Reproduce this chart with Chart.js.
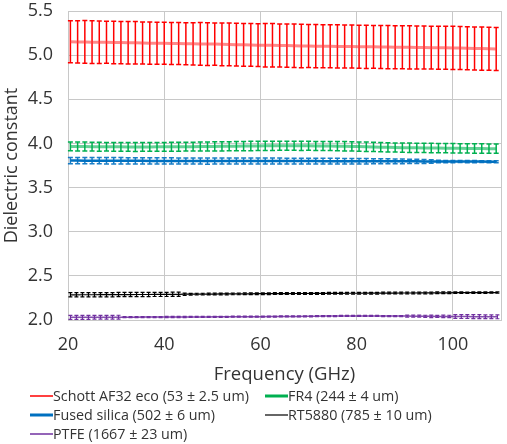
<!DOCTYPE html>
<html>
<head>
<meta charset="utf-8">
<script src="https://cdn.jsdelivr.net/npm/chart.js@4.4.0/dist/chart.umd.min.js"></script>
<style>
html,body{margin:0;padding:0;background:#fff;}
#wrap{width:507px;height:444px;position:relative;}
</style>
</head>
<body>
<div id="wrap"><canvas id="chart" width="507" height="444"></canvas></div>
<script>
// Frequencies (GHz): red / green / blue sweep
const freqA = [20.5,22,23.5,25,26.5,28,29.5,31,32.5,34,
  35.5,37,38.5,40,41.5,43,44.5,46,47.5,49,
  50.5,52,53.5,55,56.5,58,59.5,61,62.5,64,
  65.5,67,68.5,70,71.5,73,74.5,76,77.5,79,
  80.5,82,83.5,85,86.5,88,89.5,91,92.5,94,
  95.5,97,98.5,100,101.5,103,104.5,106,107.5,109];

// Frequencies (GHz): RT5880 / PTFE sweep
const freqB = [20.5,21.75,23,24.25,25.5,26.75,28,29.25,30.5,31.75,
  33,34.25,35.5,36.75,38,39.25,40.5,41.75,43,44.25,
  45.5,46.75,48,49.25,50.5,51.75,53,54.25,55.5,56.75,
  58,59.25,60.5,61.75,63,64.25,65.5,66.75,68,69.25,
  70.5,71.75,73,74.25,75.5,76.75,78,79.25,80.5,81.75,
  83,84.25,85.5,86.75,88,89.25,90.5,91.75,93,94.25,
  95.5,96.75,98,99.25,100.5,101.75,103,104.25,105.5,106.75,
  108,109.25];

const labels = [
  'Schott AF32 eco (53 \u00b1 2.5 um)',
  'FR4 (244 \u00b1 4 um)',
  'Fused silica (502 \u00b1 6 um)',
  'RT5880 (785 \u00b1 10 um)',
  'PTFE (1667 \u00b1 23 um)'
];

const schott = [5.152,5.150,5.149,5.147,5.146,5.145,5.143,5.142,5.141,5.140,
  5.138,5.136,5.135,5.134,5.133,5.131,5.130,5.128,5.127,5.126,
  5.125,5.123,5.121,5.119,5.117,5.115,5.113,5.112,5.111,5.110,
  5.108,5.106,5.104,5.103,5.102,5.101,5.100,5.099,5.098,5.097,
  5.096,5.095,5.094,5.093,5.092,5.090,5.089,5.088,5.087,5.086,
  5.085,5.084,5.083,5.082,5.080,5.078,5.076,5.074,5.072,5.070];
const schottErr = [0.238,0.240,0.242,0.242,0.240,0.238,0.240,0.240,0.240,0.240,
  0.238,0.238,0.238,0.238,0.238,0.238,0.238,0.240,0.242,0.242,
  0.240,0.242,0.242,0.243,0.242,0.242,0.243,0.245,0.246,0.244,
  0.244,0.246,0.246,0.244,0.245,0.244,0.243,0.245,0.243,0.244,
  0.244,0.245,0.243,0.244,0.245,0.244,0.244,0.244,0.244,0.244,
  0.243,0.244,0.244,0.244,0.244,0.243,0.243,0.244,0.243,0.243];

const fr4 = [3.966,3.965,3.964,3.963,3.962,3.962,3.961,3.961,3.960,3.960,
  3.960,3.960,3.961,3.961,3.962,3.962,3.963,3.963,3.964,3.965,
  3.966,3.967,3.968,3.969,3.970,3.971,3.972,3.973,3.973,3.974,
  3.974,3.974,3.973,3.973,3.972,3.971,3.970,3.969,3.968,3.966,
  3.964,3.962,3.960,3.958,3.956,3.954,3.952,3.951,3.950,3.949,
  3.948,3.947,3.946,3.945,3.944,3.943,3.942,3.942,3.941,3.941];
const fr4Err = [0.050,0.050,0.051,0.050,0.050,0.049,0.050,0.050,0.050,0.051,
  0.050,0.050,0.050,0.049,0.050,0.050,0.050,0.050,0.051,0.050,
  0.052,0.052,0.051,0.052,0.052,0.053,0.052,0.052,0.052,0.051,
  0.051,0.052,0.052,0.051,0.051,0.052,0.051,0.052,0.053,0.052,
  0.052,0.053,0.052,0.053,0.053,0.052,0.053,0.053,0.052,0.053,
  0.053,0.053,0.052,0.053,0.053,0.052,0.053,0.053,0.053,0.053];

const silica = [3.806,3.806,3.805,3.805,3.805,3.804,3.804,3.804,3.803,3.803,
  3.803,3.802,3.802,3.802,3.802,3.801,3.801,3.801,3.801,3.800,
  3.800,3.800,3.800,3.800,3.800,3.800,3.800,3.800,3.800,3.800,
  3.800,3.800,3.800,3.800,3.800,3.799,3.799,3.799,3.799,3.799,
  3.798,3.798,3.798,3.798,3.798,3.797,3.797,3.797,3.797,3.796,
  3.796,3.796,3.795,3.795,3.795,3.794,3.794,3.794,3.793,3.793];
const silicaErr = [0.036,0.036,0.036,0.036,0.036,0.036,0.036,0.036,0.036,0.036,
  0.035,0.035,0.035,0.035,0.035,0.035,0.035,0.035,0.035,0.035,
  0.034,0.034,0.034,0.034,0.034,0.034,0.034,0.034,0.034,0.034,
  0.033,0.033,0.033,0.033,0.033,0.032,0.032,0.032,0.031,0.031,
  0.030,0.030,0.029,0.028,0.028,0.027,0.026,0.025,0.024,0.022,
  0.020,0.014,0.013,0.013,0.012,0.012,0.012,0.011,0.011,0.011];

const rt5880 = [2.285,2.285,2.286,2.286,2.286,2.287,2.287,2.287,2.288,2.288,
  2.288,2.289,2.289,2.289,2.290,2.290,2.290,2.291,2.291,2.292,
  2.292,2.293,2.293,2.294,2.294,2.295,2.295,2.296,2.296,2.297,
  2.297,2.298,2.298,2.298,2.299,2.299,2.299,2.300,2.300,2.300,
  2.301,2.301,2.301,2.302,2.302,2.302,2.303,2.303,2.303,2.304,
  2.304,2.304,2.305,2.305,2.305,2.306,2.306,2.306,2.307,2.307,
  2.307,2.308,2.308,2.308,2.309,2.309,2.309,2.310,2.310,2.310,
  2.311,2.311];
const rt5880Err = [0.024,0.024,0.024,0.024,0.024,0.024,0.024,0.024,0.024,0.024,
  0.024,0.024,0.024,0.024,0.024,0.024,0.024,0.024,0.024,0.012,
  0.010,0.010,0.010,0.010,0.010,0.010,0.010,0.010,0.010,0.010,
  0.010,0.010,0.010,0.010,0.010,0.010,0.010,0.010,0.010,0.010,
  0.010,0.010,0.010,0.010,0.010,0.010,0.010,0.010,0.010,0.010,
  0.010,0.010,0.010,0.010,0.010,0.010,0.010,0.010,0.010,0.010,
  0.010,0.010,0.010,0.010,0.009,0.009,0.008,0.008,0.008,0.008,
  0.008,0.008];

const ptfe = [2.030,2.030,2.030,2.030,2.031,2.031,2.031,2.031,2.032,2.032,
  2.032,2.032,2.033,2.033,2.033,2.033,2.034,2.034,2.034,2.034,
  2.035,2.035,2.035,2.035,2.036,2.036,2.036,2.037,2.037,2.037,
  2.038,2.038,2.038,2.039,2.039,2.040,2.040,2.041,2.041,2.042,
  2.042,2.043,2.044,2.045,2.045,2.046,2.046,2.046,2.046,2.046,
  2.046,2.046,2.045,2.045,2.045,2.044,2.044,2.043,2.043,2.042,
  2.042,2.041,2.041,2.040,2.040,2.039,2.039,2.038,2.038,2.037,
  2.037,2.036];
const ptfeErr = [0.022,0.022,0.022,0.022,0.022,0.022,0.022,0.022,0.022,0.006,
  0.006,0.006,0.006,0.006,0.006,0.006,0.006,0.006,0.006,0.006,
  0.006,0.006,0.006,0.006,0.006,0.006,0.006,0.006,0.006,0.006,
  0.006,0.006,0.006,0.006,0.006,0.006,0.006,0.006,0.006,0.006,
  0.006,0.006,0.006,0.006,0.006,0.006,0.006,0.006,0.006,0.006,
  0.006,0.006,0.006,0.006,0.006,0.006,0.012,0.012,0.012,0.012,
  0.014,0.012,0.014,0.014,0.022,0.022,0.022,0.022,0.022,0.022,
  0.022,0.022];

const yTicks = [2.0, 2.5, 3.0, 3.5, 4.0, 4.5, 5.0, 5.5];
const xTicks = [20, 40, 60, 80, 100];

const FONT = "'Open Sans', 'Noto Sans', sans-serif";
const TEXT = '#333333';
const GRID = '#c8c8c8';

function pts(xs, ys){ return ys.map((v,i)=>({x: xs[i], y: v})); }

// error bars, drawn under the lines
const errorBars = {
  id: 'errorBars',
  beforeDatasetsDraw(chart){
    const {ctx, scales:{x, y}} = chart;
    ctx.save();
    chart.data.datasets.forEach(ds=>{
      if (!ds.errors) return;
      ctx.strokeStyle = ds.errColor;
      ctx.lineWidth = ds.errWidth;
      ctx.beginPath();
      ds.data.forEach((p,j)=>{
        const px = x.getPixelForValue(p.x);
        const top = y.getPixelForValue(p.y + ds.errors[j]);
        const bot = y.getPixelForValue(p.y - ds.errors[j]);
        const c = ds.capHalf;
        ctx.moveTo(px, top); ctx.lineTo(px, bot);
        ctx.moveTo(px-c, top); ctx.lineTo(px+c, top);
        ctx.moveTo(px-c, bot); ctx.lineTo(px+c, bot);
      });
      ctx.stroke();
    });
    ctx.restore();
  }
};

// two-column legend under the axis title
const gridLegend = {
  id: 'gridLegend',
  afterDraw(chart){
    const {ctx} = chart;
    const cols = [30, 265];
    const rows = [396, 415, 434];
    ctx.save();
    ctx.font = "14.3px " + FONT;
    ctx.textBaseline = 'middle';
    ctx.textAlign = 'left';
    chart.data.datasets.forEach((ds,i)=>{
      const cx = cols[i % 2], cy = rows[Math.floor(i / 2)];
      ctx.strokeStyle = ds.legendColor;
      ctx.lineWidth = ds.legendWidth;
      ctx.beginPath();
      ctx.moveTo(cx, cy); ctx.lineTo(cx + 23, cy);
      ctx.stroke();
      ctx.fillStyle = TEXT;
      ctx.fillText(ds.label, cx + 23, cy + 1);
    });
    ctx.restore();
  }
};

new Chart(document.getElementById('chart'), {
  type: 'line',
  data: {
    datasets: [
      { label: labels[0], data: pts(freqA, schott), errors: schottErr,
        borderColor: 'rgba(255,60,60,0.6)', borderWidth: 3,
        errColor: '#ff0000', errWidth: 1.5, capHalf: 2.5,
        legendColor: '#ff0000', legendWidth: 1.5 },
      { label: labels[1], data: pts(freqA, fr4), errors: fr4Err,
        borderColor: 'rgba(0,176,80,0.6)', borderWidth: 3,
        errColor: '#00b050', errWidth: 1.5, capHalf: 2.5,
        legendColor: '#00b050', legendWidth: 3 },
      { label: labels[2], data: pts(freqA, silica), errors: silicaErr,
        borderColor: '#0070c0', borderWidth: 2.5,
        errColor: 'rgba(0,112,192,0.9)', errWidth: 1.5, capHalf: 2.5,
        legendColor: '#0070c0', legendWidth: 3 },
      { label: labels[3], data: pts(freqB, rt5880), errors: rt5880Err,
        borderColor: '#000000', borderWidth: 1.2,
        errColor: '#000000', errWidth: 1.2, capHalf: 2,
        legendColor: '#000000', legendWidth: 1.2 },
      { label: labels[4], data: pts(freqB, ptfe), errors: ptfeErr,
        borderColor: 'rgba(112,48,160,0.85)', borderWidth: 1.5,
        errColor: '#7030a0', errWidth: 1.2, capHalf: 2,
        legendColor: '#7030a0', legendWidth: 1.5 }
    ]
  },
  options: {
    responsive: false,
    animation: false,
    layout: { padding: { left: 0, right: 6, top: 11, bottom: 58 } },
    elements: { point: { radius: 0 }, line: { tension: 0 } },
    plugins: { legend: { display: false }, tooltip: { enabled: false } },
    scales: {
      x: {
        type: 'linear', min: 20, max: 110,
        afterBuildTicks(s){ s.ticks = xTicks.concat([110]).map(v=>({value: v})); },
        ticks: { color: TEXT, font: { family: FONT, size: 18 }, padding: 14, maxRotation: 0,
          callback: v => xTicks.includes(v) ? String(v) : '' },
        grid: { color: GRID, drawTicks: false },
        border: { color: GRID },
        title: { display: true, text: 'Frequency (GHz)', color: TEXT,
          font: { family: FONT, size: 18.5 }, padding: 0 },
        afterFit(s){ s.height = 66; s.paddingLeft = 0; s.paddingRight = 0; }
      },
      y: {
        min: 2, max: 5.5,
        afterBuildTicks(s){ s.ticks = yTicks.map(v=>({value: v})); },
        ticks: { color: TEXT, font: { family: FONT, size: 18 }, padding: 15,
          callback: v => Number(v).toFixed(1) },
        grid: { color: GRID, drawTicks: false },
        border: { color: GRID },
        title: { display: true, text: 'Dielectric constant', color: TEXT,
          font: { family: FONT, size: 18 }, padding: { top: 1, bottom: 0 } },
        afterFit(s){ s.width = 68; s.paddingTop = 0; s.paddingBottom = 0; }
      }
    }
  },
  plugins: [errorBars, gridLegend]
});
</script>
</body>
</html>
